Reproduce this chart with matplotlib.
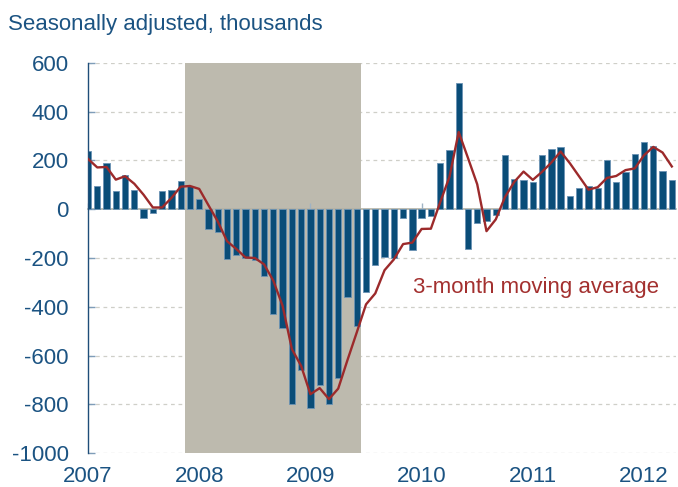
import numpy as np
import matplotlib
matplotlib.use('Agg')
import matplotlib.pyplot as plt
from matplotlib.transforms import blended_transform_factory

plt.rcParams['font.family'] = ['Liberation Sans', 'DejaVu Sans']

# monthly payroll change, Jan 2007 - Apr 2012 (thousands)
jobs = [238, 95, 190, 74, 139, 78, -38, -15, 74, 80, 115, 95,
        40, -82, -93, -206, -187, -199, -210, -273, -430, -486, -800, -659,
        -816, -722, -797, -691, -360, -479, -339, -228, -197, -201, -38, -168,
        -38, -30, 190, 242, 517, -162, -55, -48, -25, 222, 122, 120,
        112, 221, 246, 253, 55, 86, 94, 86, 203, 113, 154, 224,
        274, 258, 156, 119]

# 3-month moving average as drawn
mov_avg = [206, 171, 173, 121, 135, 104, 59, 7, 7, 46, 92, 95,
           83, 16, -50, -131, -163, -198, -200, -226, -293, -396, -573, -642,
           -758, -733, -778, -735, -618, -505, -390, -345, -250, -206, -143, -137,
           -81, -80, 28, 132, 316, 210, 102, -90, -42, 50, 112, 154,
           120, 153, 191, 236, 188, 134, 80, 90, 128, 136, 160, 167,
           221, 255, 232, 175]

years = ['2007', '2008', '2009', '2010', '2011', '2012']
yticks = [600, 400, 200, 0, -200, -400, -600, -800, -1000]
recession = (11, 29)  # Dec 2007 - Jun 2009, month index

blue_txt = '#1B5382'
x = np.arange(len(jobs))

fig = plt.figure(figsize=(6.78, 4.87), dpi=100)
ax = fig.add_axes([88/678, 1 - 453.3/487, (676 - 88)/678, (453.3 - 62.7)/487])

ax.set_xlim(0, 63.45)
ax.set_ylim(-1000, 600)

for v in yticks:
    if v != 0:
        ax.axhline(v, color='#cfcfc8', lw=0.9, ls=(0, (3, 3)), zorder=0)

ax.axvspan(recession[0] - 0.5, recession[1] + 0.5, color='#bdbaae', lw=0, zorder=1)

ax.bar(x, jobs, width=0.68, color='#0a4d78', edgecolor='#6b93b4', linewidth=0.6, zorder=2)
ax.plot(x, mov_avg, color='#9c2a2b', lw=1.7, zorder=4)

ax.text(35.1, -322, '3-month moving average', color='#a3302f', fontsize=16,
        ha='left', va='center', zorder=5)

for s in ['top', 'right']:
    ax.spines[s].set_visible(False)
ax.spines['left'].set_color('#1f4e79')
ax.spines['left'].set_linewidth(1.0)
ax.spines['bottom'].set_position(('data', 0))
ax.spines['bottom'].set_color('#b3b1a6')
ax.spines['bottom'].set_linewidth(1.2)
ax.spines['bottom'].set_zorder(1.5)

ax.set_yticks(yticks)
ax.set_yticklabels([str(v) for v in yticks])
ax.tick_params(axis='y', direction='in', length=5, width=1, color='#7f9db8',
               labelsize=16, labelcolor=blue_txt, pad=14)

ax.set_xticks(np.arange(0, len(jobs), 12))
ax.set_xticklabels([])
ax.tick_params(axis='x', direction='in', length=4, width=1, color='#9fb3c4')

tr = blended_transform_factory(ax.transData, ax.transAxes)
for i, yr in enumerate(years):
    ax.text(i * 12, -0.059, yr, transform=tr, ha='center', va='center',
            fontsize=16, color=blue_txt)

fig.text(8/678, 1 - 30/487, 'Seasonally adjusted, thousands', fontsize=16,
         color=blue_txt, ha='left', va='baseline')

fig.savefig('out.png', dpi=100)
